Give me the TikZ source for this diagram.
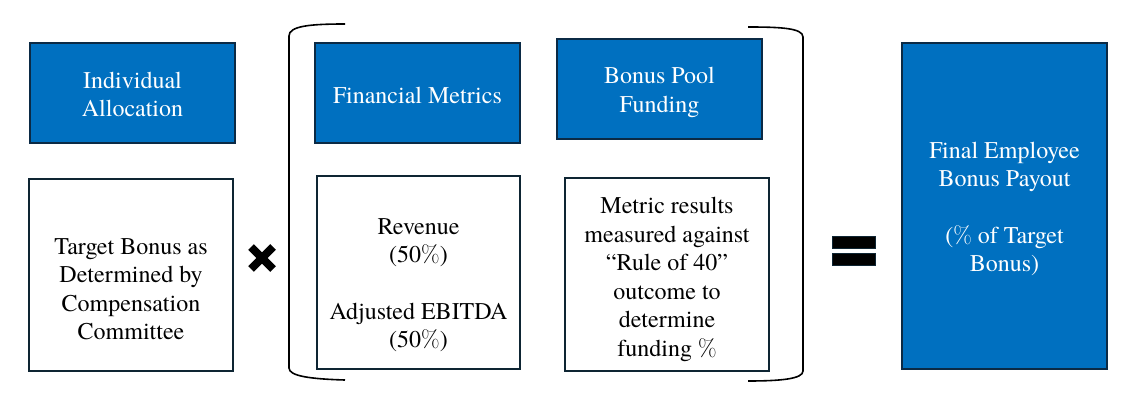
\documentclass[tikz,border=0pt]{standalone}
\usepackage{fontspec}
\setmainfont{TeX Gyre Termes}
\newfontfamily\tms{TeX Gyre Termes}
\newfontfamily\lmr{Latin Modern Roman}
\newcommand{\pct}{{\lmr\%}}
\definecolor{boxblue}{HTML}{0070C0}
\definecolor{navy}{HTML}{0B2A45}
\definecolor{darkedge}{HTML}{0E2533}
\tikzset{
  bluebox/.style={draw=navy, line width=2pt, fill=boxblue},
  whitebox/.style={draw=darkedge, line width=1.6pt, fill=white},
  wtxt/.style={text=white, align=center, font=\tms\fontsize{24}{28.5}\selectfont, inner sep=0pt},
  btxt/.style={text=black, align=center, font=\tms\fontsize{24}{28.5}\selectfont, inner sep=0pt},
  brk/.style={draw=black, line width=1.6pt},
  sym/.style={fill=black, draw=darkedge, line width=0.6pt}
}
\begin{document}
\begin{tikzpicture}[x=1pt,y=-1pt]
\useasboundingbox (0,0) rectangle (1145,409);
% top blue boxes
\path[bluebox] (30,43) rectangle (235,143);
\node[wtxt] (ia) at (132.5,94.5) {Individual\\Allocation};
\path[bluebox] (315,43) rectangle (520,143);
\node[wtxt] (fm) at (417.5,95) {Financial Metrics};
\path[bluebox] (557,39) rectangle (762,139);
\node[wtxt] (bp) at (659.5,92.5) {Bonus Pool\\Funding};
\path[bluebox] (902,43) rectangle (1107,369);
\node[wtxt] (fe) at (1004.5,209) {Final Employee\\Bonus Payout\\[28pt](\pct{} of Target\\Bonus)};
% white boxes
\path[whitebox] (29,179) rectangle (233,371);
\node[btxt] (tb) at (131,289) {Target Bonus as\\Determined by\\Compensation\\Committee};
\path[whitebox] (317,176) rectangle (520,369);
\node[btxt] (rv) at (418.5,285) {Revenue\\(50\pct)\\[28pt]Adjusted EBITDA\\(50\pct)};
\path[whitebox] (565,178) rectangle (769,371);
\node[btxt] (mr) at (667,279.5) {Metric results\\measured against\\“Rule of 40”\\outcome to\\determine\\funding \pct};
% brackets
\draw[brk] (345,24) .. controls (310,24) and (289,26) .. (289,36) -- (289,368) .. controls (289,376) and (310,379) .. (345,380);
\draw[brk] (748,27) .. controls (780,27) and (803,28) .. (803,37) -- (803,371) .. controls (803,379) and (780,381) .. (748,381);
% multiply sign
\draw[line width=8pt] (251,247) -- (273,269) (273,247) -- (251,269);
% equals sign
\path[sym] (832,236) rectangle (875,248);
\path[sym] (832,253) rectangle (875,265);
\end{tikzpicture}
\end{document}
